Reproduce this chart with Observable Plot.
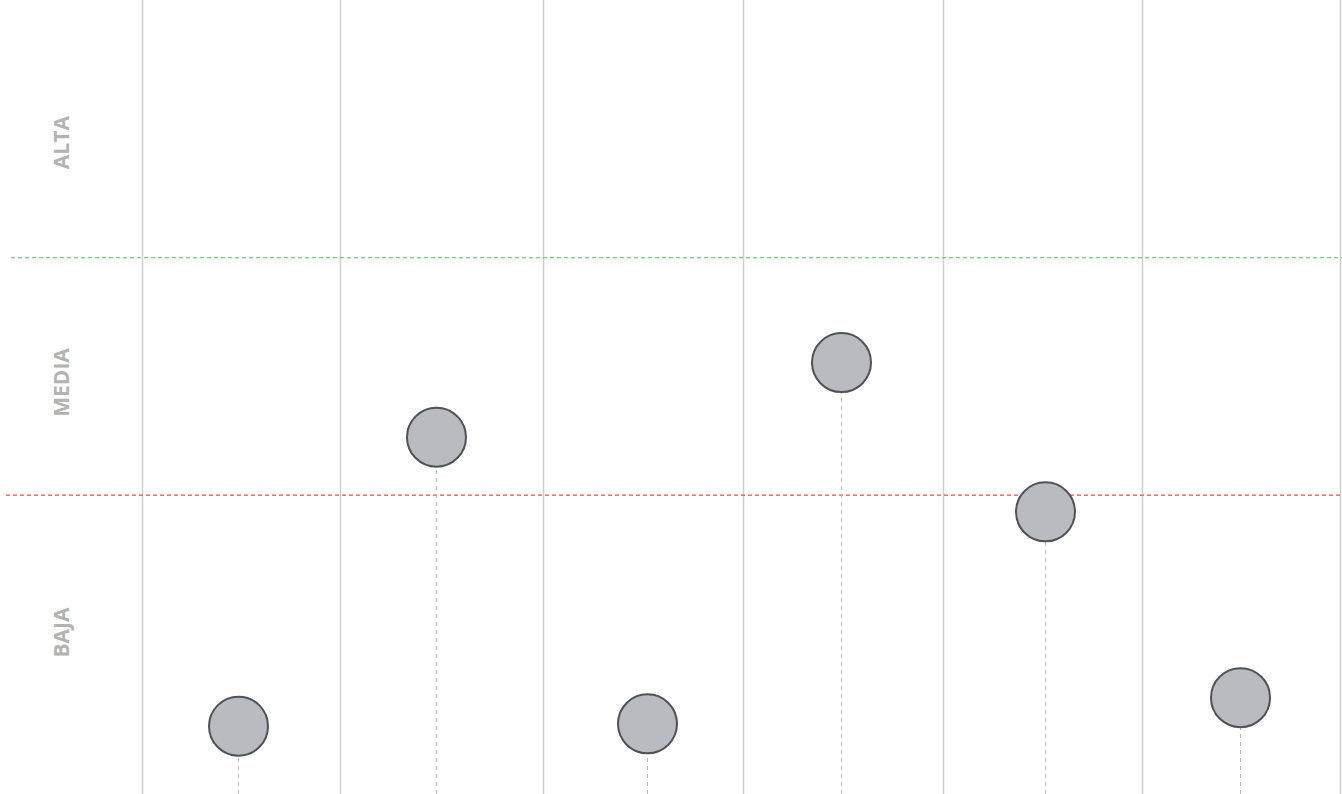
<!DOCTYPE html>
<html>
<head>
<meta charset="utf-8">
<script src="https://cdn.jsdelivr.net/npm/d3@7"></script>
<script src="https://cdn.jsdelivr.net/npm/@observablehq/plot@0.6"></script>
<style>
  html, body { margin: 0; padding: 0; background: #fff; }
  #chart svg { display: block; }
</style>
</head>
<body>
<div id="chart"></div>
<script>
// Column positions (one unit per column)
const pointX = [0.48, 1.47, 2.525, 3.495, 4.515, 5.49];
// Values on a 0–100 scale
const pointY = [8.6, 45.0, 8.9, 54.4, 35.6, 12.2];
const columnBounds = [0, 0.99, 2.005, 3.005, 4.005, 5.0, 5.99];
const thresholdHigh = 67.6;  // green dashed line
const thresholdLow = 37.7;   // red dashed line
const bandLabels = ["ALTA", "MEDIA", "BAJA"];
const bandLabelY = [82.1, 51.9, 20.4];

const points = pointX.map((x, i) => ({x, y: pointY[i]}));
const labels = bandLabels.map((t, i) => ({t, y: bandLabelY[i]}));

const chart = Plot.plot({
  width: 1342,
  height: 794,
  margin: 0,
  x: {domain: [-0.71, 6.0], axis: null},
  y: {domain: [0, 100], axis: null},
  marks: [
    Plot.ruleX(columnBounds, {stroke: "#cfcfcf", strokeWidth: 1.5}),
    Plot.ruleY([thresholdHigh], {x1: -0.655, x2: 6.0, stroke: "#5cb85c", strokeWidth: 1.2, strokeDasharray: "4,3"}),
    Plot.ruleY([thresholdLow], {x1: -0.68, x2: 6.0, stroke: "#d9534f", strokeWidth: 1.2, strokeDasharray: "4,3"}),
    Plot.ruleX(points, {x: "x", y1: 0, y2: "y", stroke: "#bbbbbb", strokeWidth: 1, strokeDasharray: "4,4"}),
    Plot.dot(points, {x: "x", y: "y", r: 29.5, fill: "#b8bcc0", stroke: "#505257", strokeWidth: 2, fillOpacity: 1}),
    Plot.text(labels, {x: -0.4, y: "y", text: "t", rotate: -90, fill: "#b3b3b3", fontSize: 21, fontWeight: "bold", fontFamily: "Open Sans", letterSpacing: "1px"})
  ]
});
document.getElementById("chart").appendChild(chart);
</script>
</body>
</html>
